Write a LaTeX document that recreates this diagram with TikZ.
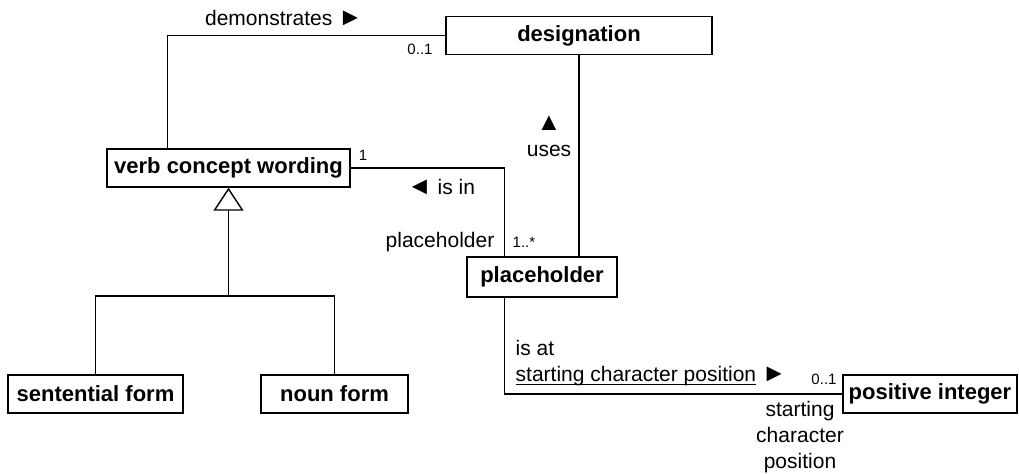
\documentclass[tikz,border=0pt]{standalone}
\usepackage{fontspec}
\setmainfont{Liberation Sans}
\usetikzlibrary{arrows.meta}
\newcommand{\dirright}{{\fontsize{12.5}{13}\selectfont ►}}
\newcommand{\dirleft}{{\fontsize{12.5}{13}\selectfont ◄}}
\newcommand{\dirup}{{\fontsize{12.5}{13}\selectfont ▲}}

\begin{document}
\begin{tikzpicture}[x=0.5pt,y=-0.5pt,line width=0.7pt,
    class node/.style={draw,fill=white,inner sep=0pt,minimum height=19pt,font=\fontsize{11}{13}\selectfont\bfseries},
    role/.style={inner sep=0pt,font=\fontsize{10.5}{13}\selectfont},
    mult/.style={inner sep=0pt,font=\fontsize{7.5}{9}\selectfont},
    gen arrow/.style={-{Triangle[open,length=11.5pt,width=15pt]}}]
                    \useasboundingbox (0,0) rectangle (1019,474);

                    \node[class node,minimum width=133pt] (designation) at (579,35.5) {designation};
                    \node[class node,minimum width=121.5pt] (wording) at (228.5,168) {verb concept wording};
                    \node[class node,minimum width=75pt,minimum height=20pt] (placeholder) at (542,277) {placeholder};
                    \node[class node,minimum width=87.5pt] (sentential) at (95.5,394) {sentential form};
                    \node[class node,minimum width=73.5pt] (noun) at (334.5,394) {noun form};
                    \node[class node,minimum width=87pt] (posint) at (930,394) {positive integer};
                    \coordinate (split) at (228.5,296);

                    \draw ([xshift=30.5pt]wording.north west) |- (designation.west);
                    \draw (designation.south) -- (designation.south |- placeholder.north);
                    \draw (wording.east) -| ([xshift=19pt]placeholder.north west);
                    \draw ([xshift=19pt]placeholder.south west) |- (posint.west);
                    \draw (sentential.north) |- (split) -| (noun.north);
                    \draw[gen arrow] (split) -- (wording.south);

                    % association labels
                    \node[role] (demonstrates) at (284,18) {demonstrates \dirright};
                    \node[mult] (desigmult) at (420,49) {0..1};
                    \node[mult] (wordmult) at (363,155) {1};
                    \node[role] (isin) at (441,187) {\dirleft\ is in};
                    \node[role,align=center] (uses) at (549,136) {\dirup\\uses};
                    \node[role,anchor=east] (phrole) at (495,242) {placeholder};
                    \node[mult,anchor=west] (phmult) at (512,242) {1..*};
                    \node[role,align=left,anchor=north west] (isat) at (515,340) {is at\\\underline{\smash{starting character position}} \dirright};
                    \node[mult] (posmult) at (824,379) {0..1};
                    \node[role,align=center] (posrole) at (800,437) {starting\\character\\position};
                \end{tikzpicture}
\end{document}
